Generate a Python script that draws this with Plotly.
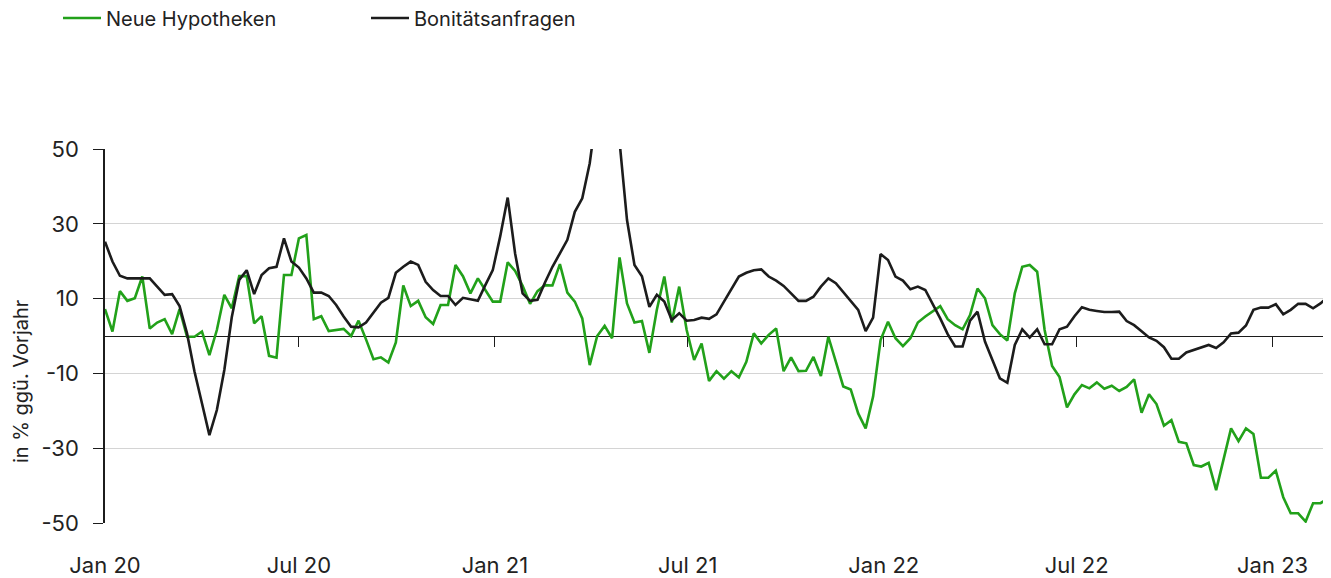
import pandas as pd
import plotly.graph_objects as go

start_date = "2020-01-01"

neue_hypotheken = [
    7.2, 1.2, 12.0, 9.4, 10.1, 15.9, 2.0, 3.6, 4.5, 0.5,
    7.2, -0.2, -0.2, 1.2, -5.1, 1.6, 11.0, 7.4, 16.0, 16.0,
    3.4, 5.3, -5.3, -5.8, 16.3, 16.3, 26.1, 27.0, 4.5, 5.3,
    1.3, 1.6, 1.9, 0.0, 4.1, -0.9, -6.2, -5.7, -7.1, -1.7,
    13.5, 8.0, 9.4, 5.0, 3.2, 8.3, 8.3, 19.0, 16.0, 11.4,
    15.4, 12.3, 9.2, 9.2, 19.7, 17.4, 13.4, 8.6, 12.0, 13.6,
    13.5, 19.2, 11.6, 9.2, 4.7, -7.8, 0.0, 2.7, -0.6, 21.0,
    8.7, 3.6, 4.0, -4.5, 7.0, 15.9, 3.6, 13.2, 1.6, -6.4,
    -2.0, -12.0, -9.4, -11.4, -9.4, -11.1, -6.9, 0.7, -2.0, 0.3,
    2.0, -9.4, -5.7, -9.4, -9.3, -5.6, -10.7, -0.2, -6.9, -13.5,
    -14.3, -20.7, -24.7, -16.2, -1.1, 3.8, -0.6, -2.7, -0.6, 3.6,
    5.2, 6.7, 8.0, 4.5, 2.9, 1.8, 5.6, 12.7, 10.1, 2.9,
    0.5, -1.2, 11.4, 18.5, 19.0, 17.2, 1.6, -8.0, -11.0, -19.1,
    -15.6, -13.1, -14.0, -12.4, -14.1, -13.3, -14.7, -13.6, -11.6, -20.5,
    -15.6, -18.2, -24.0, -22.5, -28.3, -28.7, -34.5, -34.9, -33.9, -41.2,
    -33.0, -24.7, -28.1, -24.7, -26.2, -37.9, -37.9, -36.0, -43.1, -47.4,
    -47.4, -49.6, -44.7, -44.7, -43.4,
]

bonitaetsanfragen = [
    25.2, 19.9, 16.1, 15.4, 15.4, 15.4, 15.4, 13.2, 11.0, 11.2,
    8.0, 0.7, -9.5, -18.0, -26.5, -19.8, -9.1, 5.0, 15.0, 17.6,
    11.2, 16.3, 18.1, 18.5, 26.1, 19.9, 18.3, 15.4, 11.6, 11.6,
    10.7, 8.3, 5.2, 2.5, 2.3, 3.6, 6.2, 8.9, 10.2, 16.9,
    18.5, 19.9, 19.0, 14.5, 12.3, 10.7, 10.7, 8.3, 10.2, 9.7,
    9.4, 13.6, 17.6, 26.7, 37.0, 22.0, 11.4, 9.4, 9.7, 14.3,
    18.5, 22.1, 25.7, 33.2, 36.8, 46.2, 61.0, 66.0, 60.0, 52.0,
    31.0, 19.0, 16.0, 7.8, 11.0, 9.2, 4.3, 6.1, 4.1, 4.3,
    4.9, 4.6, 5.8, 9.2, 12.5, 15.9, 16.9, 17.6, 17.8, 15.9,
    14.8, 13.4, 11.4, 9.4, 9.4, 10.5, 13.2, 15.4, 14.1, 11.8,
    9.2, 7.0, 1.3, 4.9, 21.9, 20.3, 15.9, 14.8, 12.5, 13.2,
    12.3, 8.7, 4.7, 0.5, -2.8, -2.8, 4.1, 6.5, -1.5, -6.4,
    -11.3, -12.5, -2.4, 1.8, -0.4, 1.8, -2.2, -2.2, 1.8, 2.5,
    5.3, 7.7, 7.0, 6.7, 6.4, 6.4, 6.5, 4.0, 2.9, 1.3,
    -0.4, -1.3, -3.0, -6.1, -6.1, -4.4, -3.7, -3.0, -2.4, -3.2,
    -1.7, 0.7, 0.9, 2.8, 7.0, 7.6, 7.6, 8.5, 5.8, 7.0,
    8.6, 8.6, 7.4, 8.7, 10.5,
]

x_tick_dates = ["2020-01-01", "2020-07-01", "2021-01-01", "2021-07-01",
                "2022-01-01", "2022-07-01", "2023-01-01"]
x_tick_labels = ["Jan 20", "Jul 20", "Jan 21", "Jul 21", "Jan 22", "Jul 22", "Jan 23"]
y_tick_values = [-50, -30, -10, 10, 30, 50]
y_tick_labels = ["-50", "-30", "-10", "10", "30", "50"]

dates = pd.date_range(start_date, periods=len(neue_hypotheken), freq="7D")
x_range = [dates[0], dates[-1]]

GREEN = "#22a11a"
BLACK = "#1c1c1c"
FONT = "Inter"

# The page body adds an 8px offset, so the figure is 8px smaller in each direction.
FIG_W, FIG_H = 1323, 570

fig = go.Figure()
fig.add_trace(go.Scatter(
    x=dates, y=neue_hypotheken, name="Neue Hypotheken", mode="lines",
    line=dict(color=GREEN, width=2.6), xaxis="x", yaxis="y",
))
fig.add_trace(go.Scatter(
    x=dates, y=bonitaetsanfragen, name="Bonitätsanfragen", mode="lines",
    line=dict(color=BLACK, width=2.6), xaxis="x2", yaxis="y",
))

fig.update_layout(
    width=FIG_W, height=FIG_H,
    margin=dict(l=97, r=3, t=141, b=55, autoexpand=False),
    paper_bgcolor="white", plot_bgcolor="white",
    font=dict(family=FONT, color="#222222"),
    showlegend=True,
    legend=dict(
        orientation="h", xref="container", yref="container",
        x=50 / FIG_W, y=1 - 10 / FIG_H, xanchor="left", yanchor="middle",
        font=dict(size=20, family=FONT, color="#222222"),
        entrywidth=255, entrywidthmode="pixels",
        itemwidth=38, bgcolor="rgba(0,0,0,0)",
    ),
    xaxis=dict(
        type="date", range=x_range, showgrid=False, zeroline=False,
        showline=False, ticks="", tickvals=x_tick_dates, ticktext=x_tick_labels,
        tickfont=dict(size=22, family=FONT, color="#222222"),
        ticklabelstandoff=27,
    ),
    xaxis2=dict(
        type="date", range=x_range, overlaying="x", anchor="free",
        position=0.5, side="bottom", showgrid=False, zeroline=False,
        showline=False, ticks="outside", ticklen=10, tickwidth=1.3,
        tickcolor="#1c1c1c", tickvals=x_tick_dates[1:],
        showticklabels=False,
    ),
    yaxis=dict(
        range=[-50, 50], tickvals=y_tick_values, ticktext=y_tick_labels,
        showgrid=True, gridcolor="#d4d4d4", gridwidth=1.4,
        zeroline=True, zerolinecolor="#1c1c1c", zerolinewidth=1.3,
        showline=True, linecolor="#1c1c1c", linewidth=1.5,
        ticks="outside", ticklen=10, tickcolor="#1c1c1c", tickwidth=1.3,
        tickfont=dict(size=22, family=FONT, color="#222222"),
        ticklabelstandoff=10,
    ),
    annotations=[dict(
        text="in % ggü. Vorjahr", xref="paper", yref="paper",
        x=-84 / 1223, y=(523 - 381) / 374, xanchor="center", yanchor="middle",
        textangle=-90, showarrow=False,
        font=dict(size=20, family=FONT, color="#222222"),
    )],
)

fig.write_html("out.html")
